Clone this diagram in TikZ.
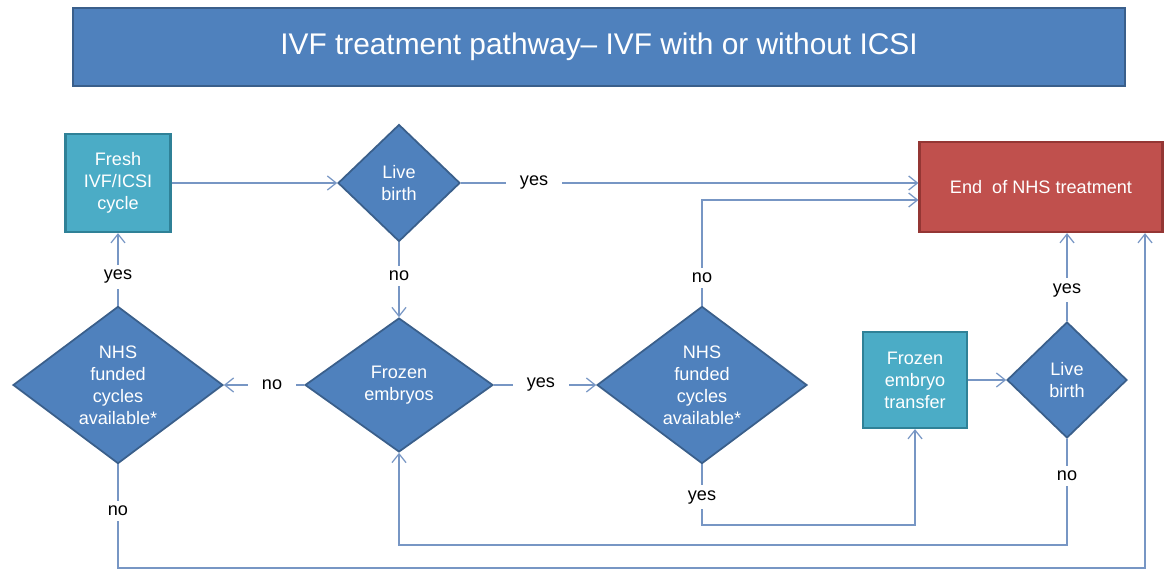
\documentclass[tikz,border=0pt]{standalone}
\usepackage{fontspec}
\setmainfont{Liberation Sans}
\usepackage{tikz}
\usetikzlibrary{shapes.geometric, arrows.meta}

\definecolor{nhsblue}{HTML}{4F81BD}
\definecolor{nhsblueline}{HTML}{3A5F8B}
\definecolor{boxteal}{HTML}{4BACC6}
\definecolor{boxtealline}{HTML}{2F8197}
\definecolor{endred}{HTML}{C0504D}
\definecolor{endredline}{HTML}{943634}
\definecolor{connblue}{HTML}{7796C4}

\newcommand{\flowfont}{\fontsize{10.3}{12.5}\selectfont}
\newcommand{\headfont}{\fontsize{17}{20}\selectfont}

\tikzset{
	decision/.style={diamond, draw=nhsblueline, fill=nhsblue, line width=1pt, text=white, align=center, inner sep=0pt, font=\flowfont},
	process/.style={rectangle, draw=boxtealline, fill=boxteal, line width=1.3pt, text=white, align=center, font=\flowfont},
	stopbox/.style={rectangle, draw=endredline, fill=endred, line width=1.3pt, text=white, align=center, font=\flowfont},
	headbox/.style={rectangle, draw=nhsblueline, fill=nhsblue, line width=1.3pt, text=white, font=\headfont},
	conn/.style={draw=connblue, line width=0.7pt, -{Straight Barb[length=5pt,width=8pt]}},
	lbl/.style={fill=white, text=black, inner xsep=8pt, inner ysep=3pt, font=\flowfont}
}

\begin{document}
\begin{tikzpicture}[x=0.02cm, y=-0.02cm]
	\useasboundingbox (0,0) rectangle (1166,571);

	%title
	\node[headbox, minimum width=21.04cm, minimum height=1.56cm] (title) at (599,47) {IVF treatment pathway– IVF with or without ICSI};

	%boxes
	\node[process, minimum width=2.1cm, minimum height=1.96cm] (fresh) at (118,183) {Fresh\\IVF/ICSI\\cycle};
	\node[process, minimum width=2.08cm, minimum height=1.92cm] (fet) at (915,380) {Frozen\\embryo\\transfer};
	\node[stopbox, minimum width=4.86cm, minimum height=1.8cm] (end) at (1041,187) {End\ \ of NHS treatment};

	%diamonds
	\node[decision, minimum width=2.44cm, minimum height=2.34cm] (live1) at (399,183) {Live\\birth};
	\node[decision, minimum width=4.2cm, minimum height=2.9cm] (nhs1) at (118,385) {NHS\\funded\\cycles\\available*};
	\node[decision, minimum width=3.76cm, minimum height=2.68cm] (frozen) at (399,385) {Frozen\\embryos};
	\node[decision, minimum width=4.2cm, minimum height=2.9cm] (nhs2) at (702,385) {NHS\\funded\\cycles\\available*};
	\node[decision, minimum width=2.4cm, minimum height=2.32cm] (live2) at (1067,380) {Live\\birth};

	%bends of the return lines
	\coordinate (ybend) at (0,525);
	\coordinate (nbend) at (0,545);
	\coordinate (obend) at (1145,568);

	%connectors
	\draw[conn] (fresh) -- (live1);
	\draw[conn] (live1.east) -- node[lbl, pos=.16] (l1yes) {yes} (live1.east -| end.west);
	\draw[conn] (live1) -- node[lbl, pos=.45] (l1no) {no} (frozen);
	\draw[conn] (frozen) -- node[lbl, pos=.4] (fzno) {no} (nhs1);
	\draw[conn] (nhs1) -- node[lbl, pos=.4] (n1yes) {yes} (fresh);
	\draw[conn] (frozen) -- node[lbl, pos=.46] (fzyes) {yes} (nhs2);
	\draw[conn] (nhs2.north) |- node[lbl, pos=.13] (n2no) {no} ([yshift=-0.26cm]end.west);
	\draw[conn] (nhs2.south) -- node[lbl, pos=.54] (n2yes) {yes} (nhs2.south |- ybend) -| (fet.south);
	\draw[conn] (fet) -- (live2);
	\draw[conn] (live2.north) -- node[lbl, pos=.35] (l2yes) {yes} (live2.north |- end.south);
	\draw[conn] (live2.south) -- node[lbl, pos=.35] (l2no) {no} (live2.south |- nbend) -| (frozen.south);
	\draw[conn] (nhs1.south) -- node[lbl, pos=.45] (n1no) {no} (nhs1.south |- obend) -| (end.south -| obend);

	%\draw[help lines] (0,0) grid (1166,571);
\end{tikzpicture}
\end{document}
